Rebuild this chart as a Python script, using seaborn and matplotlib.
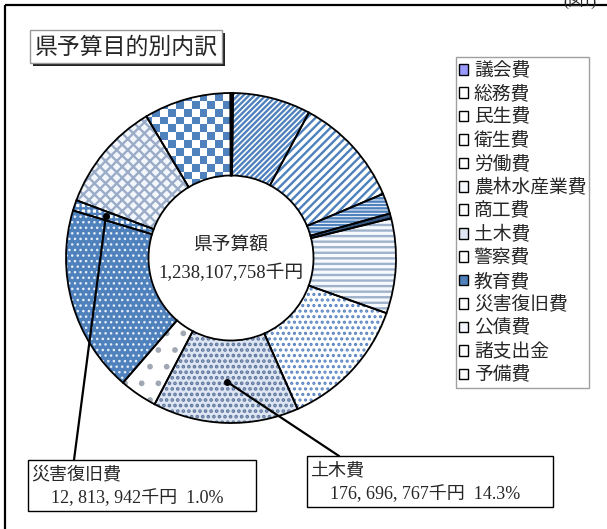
import numpy as np
import matplotlib
matplotlib.use('Agg')
import matplotlib.pyplot as plt
import seaborn as sns
from matplotlib.patches import Rectangle, Patch
from matplotlib.colors import ListedColormap

# data (千円)
labels = ['議会費', '総務費', '民生費', '衛生費', '労働費', '農林水産業費', '商工費',
          '土木費', '警察費', '教育費', '災害復旧費', '公債費', '諸支出金', '予備費']
values = [2400000, 94500000, 134000000, 24800000, 6000000, 115000000, 160500000,
          176696767, 45800000, 226500000, 12813942, 133000000, 105500000, 597049]
callouts = ['災害復旧費', '土木費']

total = sum(values)

# styles: (face, hatch, hatch colour, hatch width)
BLUE = '#4f81bd'
styles = [
    ('#9999ff', None, '#9999ff', 1),
    ('white', '//////', BLUE, 1.7),
    ('white', '////', BLUE, 1.7),
    ('white', '-----', BLUE, 1.7),
    ('white', '-------', '#33557f', 1.7),
    ('#f6f9fd', '---', '#9fb2cc', 1.7),
    ('white', '...', '#5b86c2', 1.5),
    ('#dde6f2', '...', '#5f769e', 1.8),
    ('white', '.', '#a0a8b4', 1.7),
    (BLUE, '...', '#e6eef8', 1.0),
    ('white', '+++', BLUE, 1.7),
    ('#f3f7fc', 'xxx', '#9aacc8', 1.7),
    ('white', None, BLUE, 1),
    ('white', '++', BLUE, 1.7),
]

sns.set_theme(style='white')
plt.rcParams['font.family'] = ['Noto Sans CJK JP', 'DejaVu Sans']
MINCHO = ['Liberation Serif', 'Noto Sans CJK JP']

W, H = 607, 529
fig = plt.figure(figsize=(W / 100, H / 100), dpi=100)
fig.patch.set_facecolor('white')

# overlay in pixel coords for frame / boxes
ov = fig.add_axes([0, 0, 1, 1])
ov.set_xlim(0, W)
ov.set_ylim(H, 0)
ov.axis('off')
ov.set_zorder(2)

cx, cy, R = 231, 258, 165
ax = fig.add_axes([(cx - R) / W, 1 - (cy + R) / H, 2 * R / W, 2 * R / H])
ax.set_zorder(1)

wedges, _ = ax.pie(values, startangle=90, counterclock=False, radius=1,
                   wedgeprops=dict(width=0.5, linewidth=0))
for w, (fc, hatch, hc, hw) in zip(wedges, styles):
    w.set_facecolor(fc)
    w.set_edgecolor(hc)
    w.set_linewidth(0)
    if hatch:
        w.set_hatch(hatch)
        if hasattr(w, 'set_hatch_linewidth'):
            w.set_hatch_linewidth(hw)

# checker pattern for 諸支出金
n = 42
checker = np.indices((n, n)).sum(0) % 2
img = ax.imshow(checker, cmap=ListedColormap(['white', BLUE]), extent=(-1, 1, -1, 1),
                interpolation='nearest', zorder=1.5)
img.set_clip_path(wedges[labels.index('諸支出金')])

# outlines
ax.pie(values, startangle=90, counterclock=False, radius=1,
       wedgeprops=dict(width=0.5, fill=False, edgecolor='black', linewidth=1.3, zorder=2))
ax.set_xlim(-1, 1)
ax.set_ylim(-1, 1)
ax.set_aspect('equal')
ax.axis('off')

# centre text
ax.text(0, 0.07, '県予算額', ha='center', va='center', fontsize=13.5, family=MINCHO)
ax.text(0, -0.09, f'{total:,}千円', ha='center', va='center', fontsize=13.5, family=MINCHO)

# outer frame and figure number (cut at the top edge as in the original)
ov.add_patch(Rectangle((5, 5), 606, 528, fill=False, ec='black', lw=1.6))
ov.text(580, 1, '(図1)', ha='center', va='center', fontsize=11, family=MINCHO)

# title box with shadow
ov.add_patch(Rectangle((33, 33), 192, 33, fc='#222222', ec='none'))
ov.add_patch(Rectangle((30, 30), 192, 33, fc='white', ec='#999999', lw=1))
ov.text(126, 47, '県予算目的別内訳', ha='center', va='center', fontsize=16.5)

# legend
handles = [Patch(facecolor=s[0], edgecolor='black', lw=1) for s in styles]
leg = fig.legend(handles, labels, loc='upper left', bbox_to_anchor=(456 / W, 1 - 57 / H),
                 frameon=True, fancybox=False, edgecolor='#888888', fontsize=13.5,
                 handlelength=0.5, handleheight=0.5, handletextpad=0.3,
                 labelspacing=0.13, borderpad=0.15, borderaxespad=0)
leg.get_frame().set_linewidth(1)

# callouts
boxes = {'災害復旧費': (28, 460, 228, 51, 74), '土木費': (307, 456, 246, 51, 339)}
radii = {'災害復旧費': 0.8, '土木費': 0.75}
cum = np.cumsum([0] + values)
for name in callouts:
    i = labels.index(name)
    mid = (cum[i] + cum[i + 1]) / 2 / total * 2 * np.pi
    ang = np.pi / 2 - mid
    px = radii[name] * np.cos(ang)
    py = radii[name] * np.sin(ang)
    sx, sy = ov.transData.inverted().transform(ax.transData.transform((px, py)))
    bx, by, bw, bh, lx = boxes[name]
    ov.plot([sx, lx], [sy, by], color='black', lw=1.6, zorder=3)
    ov.plot([sx], [sy], 'o', color='black', ms=4, zorder=3)
    ov.add_patch(Rectangle((bx, by), bw, bh, fc='white', ec='black', lw=1, zorder=4))
    pct = values[i] / total * 100
    amount = f'{values[i]:,}'.replace(',', ', ')
    ov.text(bx + 3, by + 15, name, ha='left', va='center', fontsize=13, family=MINCHO, zorder=5)
    ov.text(bx + 23, by + 38, f'{amount}千円  {pct:.1f}%', ha='left', va='center',
            fontsize=13, family=MINCHO, zorder=5)

fig.savefig('out.png', dpi=100)
